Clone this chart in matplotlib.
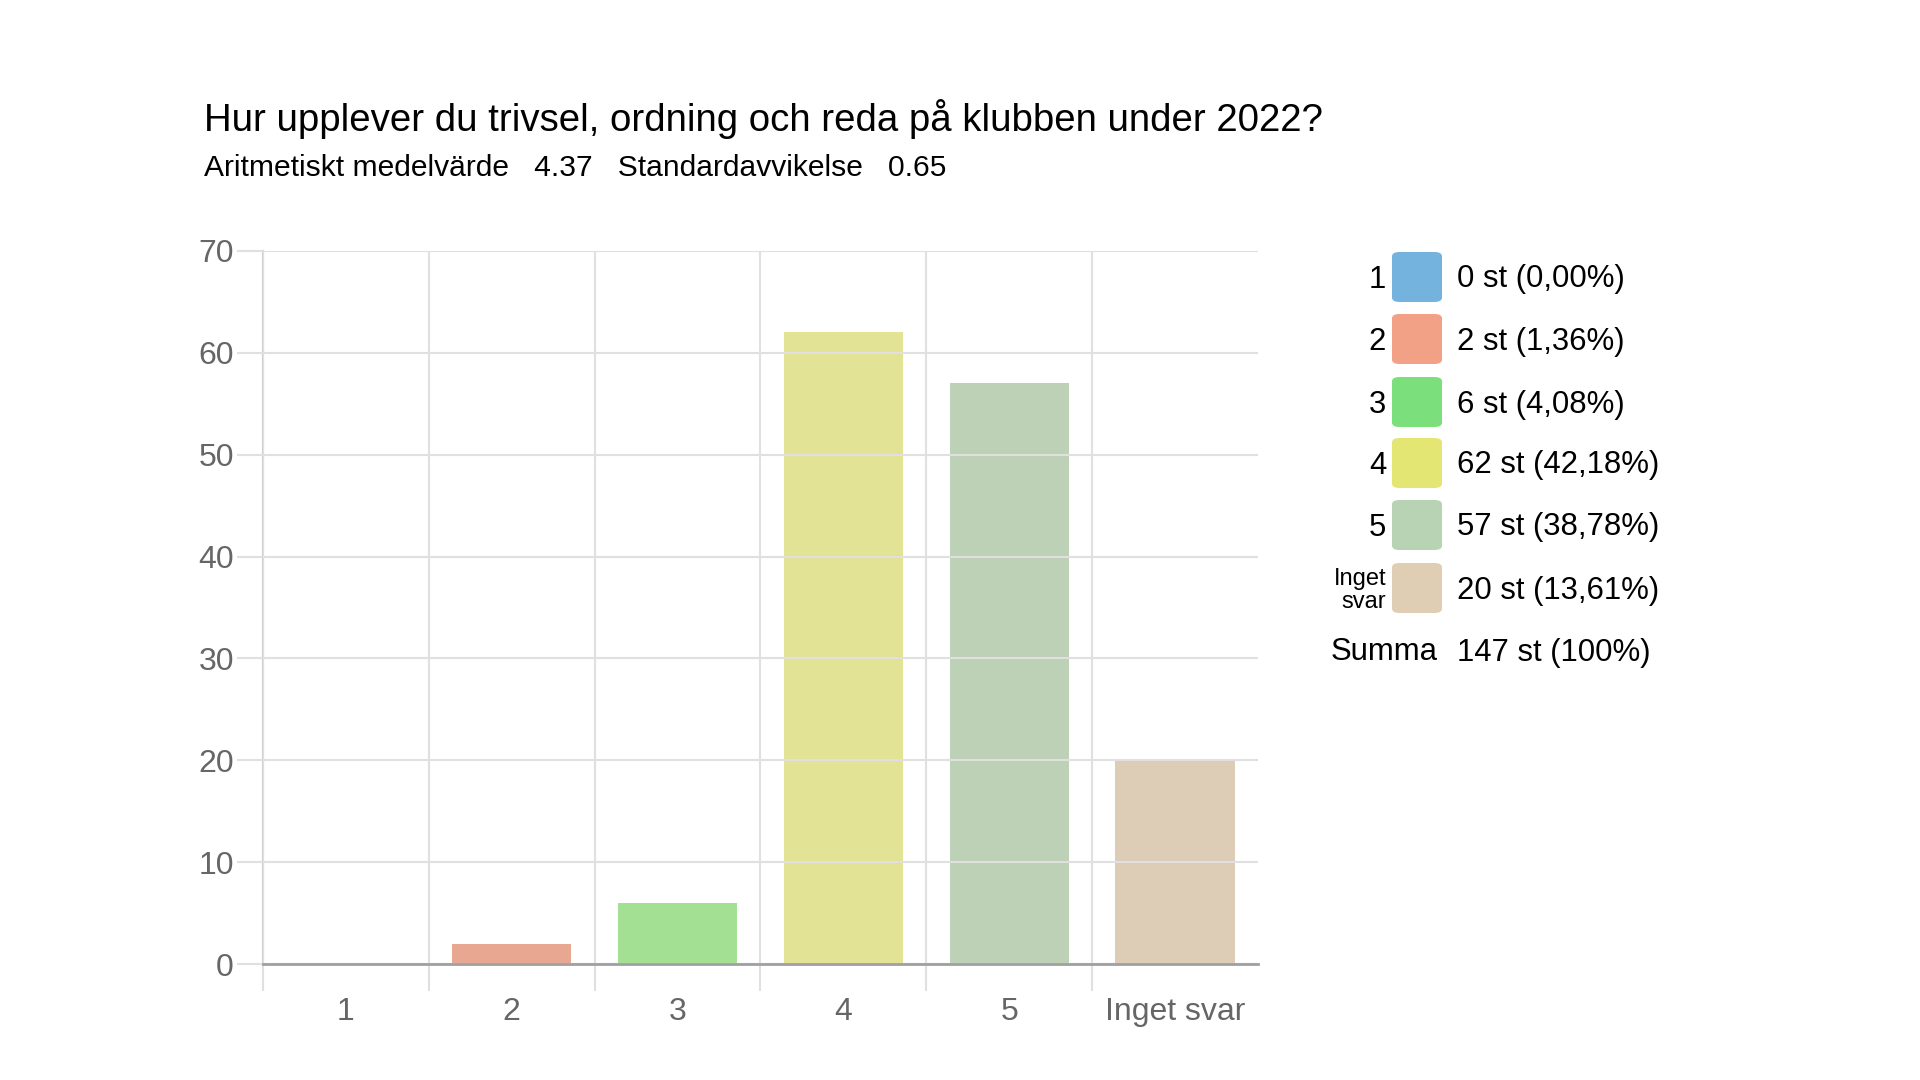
import matplotlib
matplotlib.use("Agg")
import matplotlib.pyplot as plt
from matplotlib.patches import FancyBboxPatch

plt.rcParams['font.family'] = ['Liberation Sans', 'DejaVu Sans']

categories = ["1", "2", "3", "4", "5", "Inget svar"]
legend_labels = ["1", "2", "3", "4", "5", "Inget\nsvar"]
counts = [0, 2, 6, 62, 57, 20]
percents = ["0,00%", "1,36%", "4,08%", "42,18%", "38,78%", "13,61%"]
total = 147
legend_colors = ["#74B3DE", "#F2A086", "#7BE07B", "#E4E673", "#B8D3B4", "#DFCDB4"]
bar_colors = ["#74B3DE", "#E6A088", "#9CDE8B", "#E0E18C", "#B8CEB1", "#DBCAB2"]
title = "Hur upplever du trivsel, ordning och reda på klubben under 2022?"
subtitle = "Aritmetiskt medelvärde   4.37   Standardavvikelse   0.65"
yticks = [0, 10, 20, 30, 40, 50, 60, 70]

W, H = 1920, 1080
fig = plt.figure(figsize=(19.2, 10.8), dpi=100)
ax = fig.add_axes([263 / W, 1 - 964 / H, (1258 - 263) / W, (964 - 251) / H])

x = list(range(len(categories)))
ax.bar(x, counts, width=0.72, color=bar_colors, zorder=1)
ax.set_xlim(-0.5, len(categories) - 0.5)
ax.set_ylim(0, 70)
ax.set_yticks(yticks)
ax.set_yticklabels([str(v) for v in yticks])
ax.set_xticks(x)
ax.set_xticklabels(categories)
ax.set_xticks([i - 0.5 for i in range(len(categories))], minor=True)

ax.grid(axis='y', color='#E0E0E0', linewidth=1.5, zorder=2)
ax.grid(axis='x', which='minor', color='#E0E0E0', linewidth=1.5, zorder=2)
ax.set_axisbelow(False)
for s in ['top', 'right']:
    ax.spines[s].set_visible(False)
ax.spines['left'].set_color('#D0D0D0')
ax.spines['left'].set_linewidth(1.5)
ax.spines['bottom'].set_color('#A0A0A0')
ax.spines['bottom'].set_linewidth(2)
ax.spines['bottom'].set_zorder(3)

ax.tick_params(axis='y', length=19, width=1.5, color='#E0E0E0', labelcolor='#666666',
               labelsize=23, pad=2)
ax.tick_params(axis='x', which='major', length=0, labelcolor='#666666', labelsize=23, pad=24)
ax.tick_params(axis='x', which='minor', length=19.5, width=1.5, color='#E0E0E0')

# bars slightly transparent so grid shows through
for p in ax.patches:
    p.set_alpha(0.93)
    p.set_zorder(2.5)

fig.text(204 / W, 1 - 119 / H, title, fontsize=27.6, va='center', ha='left', color='black')
fig.text(204 / W, 1 - 168 / H, subtitle, fontsize=21.6, va='center', ha='left', color='black')

# legend table
row_y = [277, 339, 402, 463, 525, 588]
for lab, c, n, pc, yy in zip(legend_labels, legend_colors, counts, percents, row_y):
    fs = 22.4 if '\n' not in lab else 17
    fig.text(1386 / W, 1 - (yy + 2.5) / H, lab, fontsize=fs, ha='right', va='center',
             color='black', linespacing=1.1)
    box = FancyBboxPatch((1392 / W, 1 - (yy + 25) / H), 50 / W, 50 / H,
                         boxstyle="round,pad=0,rounding_size=0.004",
                         transform=fig.transFigure, facecolor=c, edgecolor='none')
    fig.patches.append(box)
    fig.text(1457 / W, 1 - (yy + 2.5) / H, f"{n} st ({pc})", fontsize=22.4, ha='left',
             va='center', color='black')
fig.text(1331 / W, 1 - 652.5 / H, "Summa", fontsize=22.4, ha='left', va='center', color='black')
fig.text(1457 / W, 1 - 652.5 / H, f"{total} st (100%)", fontsize=22.4, ha='left',
         va='center', color='black')

fig.savefig("out.png", dpi=100)
